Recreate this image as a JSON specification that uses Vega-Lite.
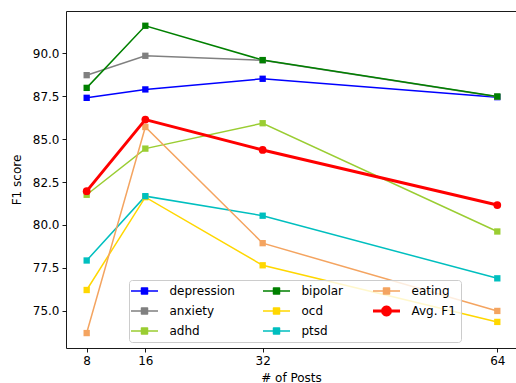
{
  "$schema": "https://vega.github.io/schema/vega-lite/v6.json",
  "width": 450,
  "height": 337,
  "autosize": {"type": "none"},
  "padding": {"left": 66, "top": 11, "right": 0, "bottom": 35},
  "config": {
    "view": {"stroke": null},
    "font": "DejaVu Sans",
    "axis": {
      "domainColor": "#000000",
      "domainWidth": 0.9,
      "tickColor": "#000000",
      "tickWidth": 0.9,
      "tickSize": 4,
      "labelColor": "#000000",
      "labelFont": "DejaVu Sans",
      "labelFontSize": 12,
      "titleFont": "DejaVu Sans",
      "titleFontSize": 12,
      "titleFontWeight": "normal",
      "titleColor": "#000000",
      "grid": false,
      "labelPadding": 3
    }
  },
  "datasets": {
    "f1": [
      {"series": "depression", "posts": 8, "f1": 87.41},
      {"series": "depression", "posts": 16, "f1": 87.90},
      {"series": "depression", "posts": 32, "f1": 88.52},
      {"series": "depression", "posts": 64, "f1": 87.45},
      {"series": "anxiety", "posts": 8, "f1": 88.73},
      {"series": "anxiety", "posts": 16, "f1": 89.86},
      {"series": "anxiety", "posts": 32, "f1": 89.60},
      {"series": "anxiety", "posts": 64, "f1": 87.47},
      {"series": "adhd", "posts": 8, "f1": 81.76},
      {"series": "adhd", "posts": 16, "f1": 84.45},
      {"series": "adhd", "posts": 32, "f1": 85.93},
      {"series": "adhd", "posts": 64, "f1": 79.62},
      {"series": "bipolar", "posts": 8, "f1": 87.99},
      {"series": "bipolar", "posts": 16, "f1": 91.61},
      {"series": "bipolar", "posts": 32, "f1": 89.61},
      {"series": "bipolar", "posts": 64, "f1": 87.49},
      {"series": "ocd", "posts": 8, "f1": 76.21},
      {"series": "ocd", "posts": 16, "f1": 81.62},
      {"series": "ocd", "posts": 32, "f1": 77.65},
      {"series": "ocd", "posts": 64, "f1": 74.35},
      {"series": "ptsd", "posts": 8, "f1": 77.93},
      {"series": "ptsd", "posts": 16, "f1": 81.68},
      {"series": "ptsd", "posts": 32, "f1": 80.54},
      {"series": "ptsd", "posts": 64, "f1": 76.89},
      {"series": "eating", "posts": 8, "f1": 73.70},
      {"series": "eating", "posts": 16, "f1": 85.71},
      {"series": "eating", "posts": 32, "f1": 78.94},
      {"series": "eating", "posts": 64, "f1": 74.99},
      {"series": "Avg. F1", "posts": 8, "f1": 81.97},
      {"series": "Avg. F1", "posts": 16, "f1": 86.14},
      {"series": "Avg. F1", "posts": 32, "f1": 84.37},
      {"series": "Avg. F1", "posts": 64, "f1": 81.16}
    ]
  },
  "data": {"name": "f1"},
  "layer": [
    {
      "transform": [{"filter": "datum.series !== 'Avg. F1'"}],
      "mark": {"type": "line", "strokeWidth": 1.5},
      "encoding": {
        "x": {
          "field": "posts", "type": "quantitative",
          "scale": {"domain": [5.18, 66.55], "nice": false, "zero": false},
          "axis": {"values": [8, 16, 32, 64], "format": "d", "title": "# of Posts", "titlePadding": 6}
        },
        "y": {
          "field": "f1", "type": "quantitative",
          "scale": {"domain": [72.83, 92.47], "nice": false, "zero": false},
          "axis": {"values": [75, 77.5, 80, 82.5, 85, 87.5, 90], "format": ".1f", "title": "F1 score", "titlePadding": 9}
        },
        "color": {
          "field": "series", "type": "nominal",
          "scale": {
            "domain": ["depression", "anxiety", "adhd", "bipolar", "ocd", "ptsd", "eating", "Avg. F1"],
            "range": ["#0000ff", "#808080", "#9acd32", "#008000", "#ffd700", "#00bfbf", "#f4a460", "#ff0000"]
          },
          "legend": {
            "title": null,
            "orient": "none",
            "legendX": 63,
            "legendY": 269,
            "columns": 3,
            "gridAlign": "each",
            "symbolType": "square",
            "symbolSize": 100,
            "symbolOffset": 4.5,
            "labelOffset": 19,
            "columnPadding": 27,
            "rowPadding": 8,
            "padding": 5,
            "fillColor": "rgba(255,255,255,0.8)",
            "strokeColor": "#cccccc",
            "cornerRadius": 3,
            "labelFont": "DejaVu Sans",
            "labelFontSize": 12,
            "labelColor": "#000000",
            "symbolStrokeWidth": 1.5,
            "symbolOpacity": 1,
            "encode": {
              "symbols": {
                "update": {
                  "shape": {"signal": "datum.value === 'Avg. F1' ? 'M-2.7,0H2.7M0.8,0L0.693,0.4L0.4,0.693L0,0.8L-0.4,0.693L-0.693,0.4L-0.8,0L-0.693,-0.4L-0.4,-0.693L0,-0.8L0.4,-0.693L0.693,-0.4Z' : 'M-2.7,0H2.7M-0.6,-0.6H0.6V0.6H-0.6Z'"},
                  "strokeWidth": {"signal": "datum.value === 'Avg. F1' ? 3 : 1.5"},
                  "strokeJoin": {"value": "round"},
                  "fill": {"scale": "color", "field": "value"},
                  "stroke": {"scale": "color", "field": "value"},
                  "opacity": {"value": 1}
                }
              }
            }
          }
        }
      }
    },
    {
      "transform": [{"filter": "datum.series !== 'Avg. F1'"}],
      "mark": {"type": "point", "shape": "square", "filled": true, "size": 40, "opacity": 1},
      "encoding": {
        "x": {
          "field": "posts", "type": "quantitative",
          "axis": {"orient": "top", "labels": false, "ticks": false, "title": null, "domain": true}
        },
        "y": {"field": "f1", "type": "quantitative"},
        "color": {"field": "series", "type": "nominal"}
      }
    },
    {
      "transform": [{"filter": "datum.series === 'Avg. F1'"}],
      "mark": {"type": "line", "strokeWidth": 3},
      "encoding": {
        "x": {"field": "posts", "type": "quantitative", "axis": null},
        "y": {"field": "f1", "type": "quantitative"},
        "color": {"field": "series", "type": "nominal"}
      }
    },
    {
      "transform": [{"filter": "datum.series === 'Avg. F1'"}],
      "mark": {"type": "point", "shape": "circle", "filled": true, "size": 60, "opacity": 1},
      "encoding": {
        "x": {"field": "posts", "type": "quantitative", "axis": null},
        "y": {"field": "f1", "type": "quantitative"},
        "color": {"field": "series", "type": "nominal"}
      }
    }
  ],
  "resolve": {"axis": {"x": "independent"}}
}
